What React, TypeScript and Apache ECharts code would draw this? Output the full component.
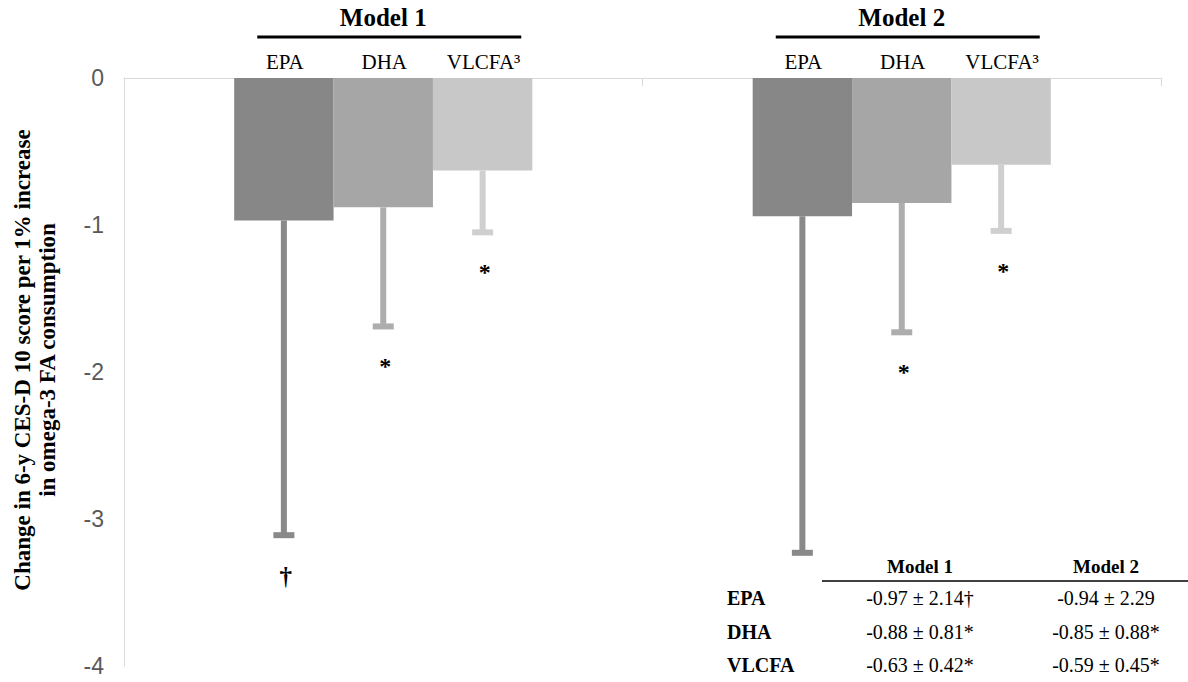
import React, { useEffect, useRef } from "react";
import * as echarts from "echarts";

// ---------- data ----------
const categories = ["Model 1", "Model 2"];
const seriesNames = ["EPA", "DHA", "VLCFA"];
const seriesLabels = ["EPA", "DHA", "VLCFA³"];

const epaMean = [-0.97, -0.94];
const epaSD = [2.14, 2.29];
const epaMark = ["†", ""];

const dhaMean = [-0.88, -0.85];
const dhaSD = [0.81, 0.88];
const dhaMark = ["*", "*"];

const vlcfaMean = [-0.63, -0.59];
const vlcfaSD = [0.42, 0.45];
const vlcfaMark = ["*", "*"];

const yMin = -4;
const yMax = 0;
const yInterval = 1;

const yTitleLines = [
  "Change in 6-y CES-D 10 score per 1% increase",
  "in omega-3 FA consumption",
];

// ---------- styles ----------
const barColors = ["#878787", "#a6a6a6", "#c8c8c8"];
const errColors = ["#898989", "#adadad", "#cfcfcf"];
const SERIF = "'Liberation Serif', 'Times New Roman', serif";
const SANS = "'Liberation Sans', Arial, sans-serif";
const CAT_GAP = 0.425;

const means = [epaMean, dhaMean, vlcfaMean];
const sds = [epaSD, dhaSD, vlcfaSD];
const marks = [epaMark, dhaMark, vlcfaMark];

function errorSeries(i: number) {
  return {
    type: "custom",
    name: seriesNames[i] + " SD",
    silent: true,
    z: 5,
    clip: false,
    data: means[i].map((m, k) => [k, m, m - sds[i][k]]),
    encode: { x: 0, y: [1, 2] },
    renderItem: (params: any, api: any) => {
      const k = api.value(0);
      const band = api.size([1, 0])[0];
      const bw = (band * (1 - CAT_GAP)) / 3;
      const c = api.coord([k, api.value(1)]);
      const e = api.coord([k, api.value(2)]);
      const z0 = api.coord([k, 0]);
      const x = c[0] + (i - 1) * bw;
      const mark = marks[i][k];
      const isDagger = mark === "†";
      return {
        type: "group",
        children: [
          {
            type: "rect",
            shape: { x: x - 3, y: c[1], width: 6, height: e[1] - c[1] },
            style: { fill: errColors[i] },
          },
          {
            type: "rect",
            shape: { x: x - 10.5, y: e[1] - 3, width: 21, height: 6 },
            style: { fill: errColors[i] },
          },
          {
            type: "text",
            style: {
              text: mark,
              x: x + 2,
              y: e[1] + (isDagger ? 41 : 40),
              align: "center",
              verticalAlign: "middle",
              fontFamily: SERIF,
              fontWeight: "bold",
              fontSize: isDagger ? 25 : 24,
              fill: "#000",
            },
          },
          {
            type: "text",
            style: {
              text: seriesLabels[i],
              x: x + 1,
              y: z0[1] - 16,
              align: "center",
              verticalAlign: "middle",
              fontFamily: SERIF,
              fontSize: 21,
              fill: "#000",
            },
          },
        ],
      };
    },
  };
}

const headerLineSeries = {
  type: "custom",
  name: "header",
  silent: true,
  clip: false,
  data: categories.map((_, k) => [k, 0]),
  encode: { x: 0, y: 1 },
  renderItem: (params: any, api: any) => {
    const k = api.value(0);
    const c = api.coord([k, 0]);
    return {
      type: "rect",
      shape: { x: c[0] + 6 - 132, y: c[1] - 42.5, width: 264, height: 3 },
      style: { fill: "#000" },
    };
  },
};

function tableGraphics() {
  const els: any[] = [];
  const colX = [920, 1106];
  const rowY = [598, 632, 665];
  categories.forEach((c, j) => {
    els.push({
      type: "text",
      x: colX[j],
      y: 566,
      style: {
        text: c,
        align: "center",
        verticalAlign: "middle",
        fontFamily: SERIF,
        fontWeight: "bold",
        fontSize: 19,
        fill: "#000",
      },
    });
  });
  els.push({
    type: "line",
    shape: { x1: 822, y1: 581, x2: 1188, y2: 581 },
    style: { stroke: "#000", lineWidth: 1.5 },
  });
  seriesNames.forEach((n, i) => {
    els.push({
      type: "text",
      x: 727,
      y: rowY[i],
      style: {
        text: n,
        align: "left",
        verticalAlign: "middle",
        fontFamily: SERIF,
        fontWeight: "bold",
        fontSize: 20,
        fill: "#000",
      },
    });
    categories.forEach((_, j) => {
      els.push({
        type: "text",
        x: colX[j],
        y: rowY[i],
        style: {
          text: `${means[i][j].toFixed(2)} ± ${sds[i][j].toFixed(2)}${marks[i][j]}`,
          align: "center",
          verticalAlign: "middle",
          fontFamily: SERIF,
          fontSize: 20,
          fill: "#000",
        },
      });
    });
  });
  els.push({
    type: "text",
    x: 35,
    y: 360,
    rotation: Math.PI / 2,
    style: {
      text: yTitleLines.join("\n"),
      align: "center",
      verticalAlign: "middle",
      fontFamily: SERIF,
      fontWeight: "bold",
      fontSize: 23,
      lineHeight: 25,
      fill: "#000",
    },
  });
  return els;
}

export default function App() {
  const ref = useRef<HTMLDivElement>(null);
  useEffect(() => {
    if (!ref.current) return;
    const chart = echarts.init(ref.current, undefined, { renderer: "svg" });
    const option: any = {
      animation: false,
      backgroundColor: "#ffffff",
      grid: { left: 124, right: 27, top: 78, bottom: 16 },
      xAxis: {
        type: "category",
        position: "top",
        data: categories,
        axisLine: { show: true, lineStyle: { color: "#d9d9d9", width: 1 } },
        axisTick: { show: true, inside: true, length: 8, lineStyle: { color: "#d9d9d9" } },
        axisLabel: {
          margin: 48,
          color: "#000",
          fontFamily: SERIF,
          fontWeight: "bold",
          fontSize: 25,
        },
        splitLine: { show: false },
      },
      yAxis: {
        type: "value",
        min: yMin,
        max: yMax,
        interval: yInterval,
        axisLine: { show: true, lineStyle: { color: "#d9d9d9", width: 1 } },
        axisTick: { show: false },
        axisLabel: { color: "#595959", fontFamily: SANS, fontSize: 23, margin: 20 },
        splitLine: { show: false },
      },
      series: [
        ...seriesNames.map((n, i) => ({
          type: "bar",
          name: n,
          data: means[i],
          barGap: "0%",
          barCategoryGap: CAT_GAP * 100 + "%",
          itemStyle: { color: barColors[i] },
          silent: true,
        })),
        ...seriesNames.map((_, i) => errorSeries(i)),
        headerLineSeries,
      ],
      graphic: tableGraphics(),
    };
    chart.setOption(option);
    return () => chart.dispose();
  }, []);
  return (
    <div
      ref={ref}
      style={{ position: "absolute", left: 0, top: 0, width: 1188, height: 682 }}
    />
  );
}
